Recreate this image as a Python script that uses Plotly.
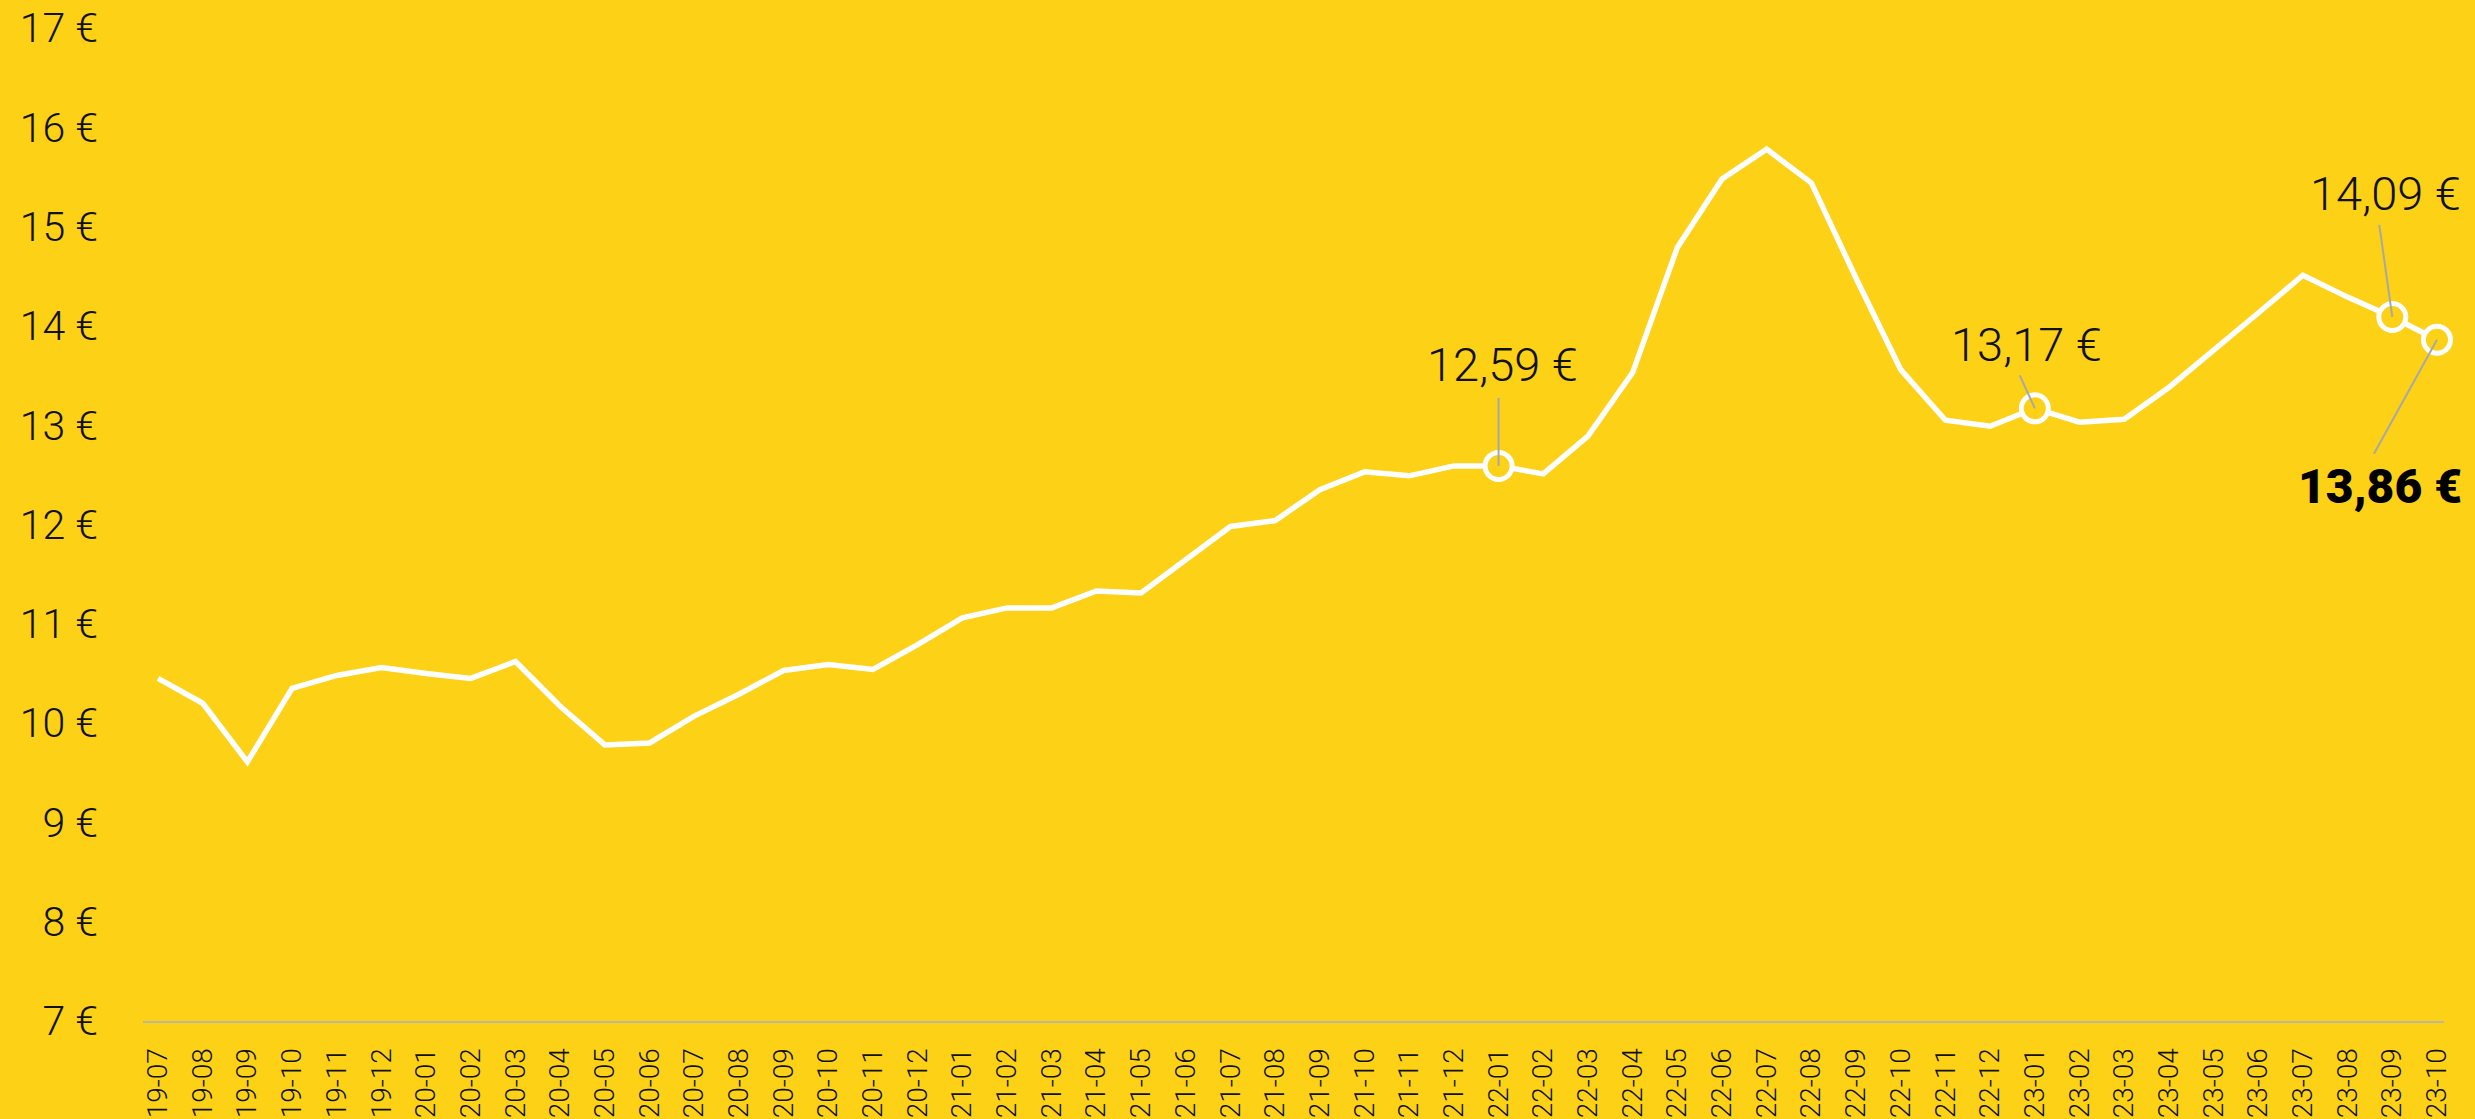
import plotly.graph_objects as go

months = ["19-07","19-08","19-09","19-10","19-11","19-12",
          "20-01","20-02","20-03","20-04","20-05","20-06","20-07","20-08","20-09","20-10","20-11","20-12",
          "21-01","21-02","21-03","21-04","21-05","21-06","21-07","21-08","21-09","21-10","21-11","21-12",
          "22-01","22-02","22-03","22-04","22-05","22-06","22-07","22-08","22-09","22-10","22-11","22-12",
          "23-01","23-02","23-03","23-04","23-05","23-06","23-07","23-08","23-09","23-10"]
prices = [10.45, 10.20, 9.61, 10.35, 10.48, 10.56,
          10.50, 10.45, 10.62, 10.17, 9.78, 9.80, 10.07, 10.29, 10.53, 10.59, 10.54, 10.79,
          11.06, 11.16, 11.16, 11.33, 11.31, 11.65, 11.98, 12.04, 12.35, 12.53, 12.49, 12.59,
          12.59, 12.51, 12.89, 13.53, 14.79, 15.48, 15.78, 15.44, 14.48, 13.56, 13.05, 12.99,
          13.17, 13.03, 13.06, 13.38, 13.75, 14.13, 14.51, 14.29, 14.09, 13.86]

highlight_idx = [30, 42, 50, 51]
# label text offsets (px) and leader line end offsets (px, y up)
label_shift = [(4, 101), (-8, 64), (-7, 123), (-57, -147)]
leader_end = [(0, 68), (-15, 33), (-13, 92), (-63, -114)]
label_bold = [False, False, False, True]

BG = "#FCD116"
INK = "#111111"
FONT = "Roboto"

fig = go.Figure()
fig.add_trace(go.Scatter(
    x=months, y=prices, mode="lines",
    line=dict(color="white", width=5.5),
    cliponaxis=False,
    hoverinfo="skip", showlegend=False))

fig.add_trace(go.Scatter(
    x=[months[i] for i in highlight_idx], y=[prices[i] for i in highlight_idx],
    mode="markers",
    marker=dict(symbol="circle", size=27, color=BG, line=dict(color="white", width=5)),
    cliponaxis=False,
    hoverinfo="skip", showlegend=False))

for k, i in enumerate(highlight_idx):
    dx, dy = leader_end[k]
    fig.add_shape(type="line", xref="x", yref="y",
                  xsizemode="pixel", ysizemode="pixel",
                  xanchor=months[i], yanchor=prices[i],
                  x0=0, y0=0, x1=dx, y1=dy,
                  line=dict(color="#a8a8a8", width=2), layer="above")
    txt = f"{prices[i]:.2f}".replace(".", ",") + " €"
    sx, sy = label_shift[k]
    fig.add_annotation(x=months[i], y=prices[i], text=txt, showarrow=False,
                       xshift=sx, yshift=sy,
                       font=dict(family=FONT, size=48 if label_bold[k] else 47,
                                 color="#000000" if label_bold[k] else INK,
                                 weight=900 if label_bold[k] else 300))

fig.update_layout(
    width=2475, height=1119,
    paper_bgcolor=BG, plot_bgcolor=BG,
    margin=dict(l=143, r=31, t=28, b=98),
    showlegend=False,
    xaxis=dict(type="category", range=[-0.336, 51.157], showgrid=False, zeroline=False,
               automargin=False,
               showline=True, linecolor="#bdb7a0", linewidth=2,
               ticks="", tickangle=-90, ticklabelstandoff=14,
               tickfont=dict(family=FONT, size=28, color=INK, weight=300)),
    yaxis=dict(range=[7, 17], dtick=1, tick0=7, ticksuffix=" €", showgrid=False, zeroline=False,
               automargin=False,
               showline=False, ticks="", ticklabelstandoff=44,
               tickfont=dict(family=FONT, size=41, color=INK, weight=300)),
)

fig.write_html("out.html", config={"displayModeBar": False},
               post_script="document.body.style.margin='0';document.body.style.overflow='hidden';"
                           "document.body.style.background='" + BG + "';")
